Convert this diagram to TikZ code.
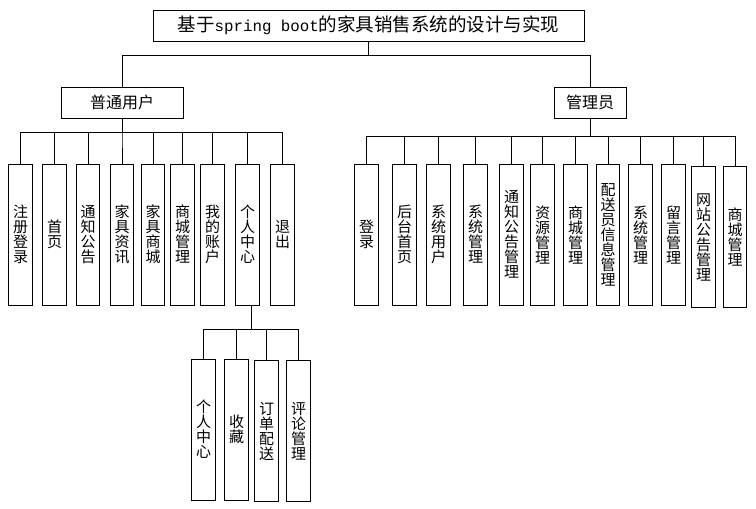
\documentclass[tikz,border=0pt]{standalone}
\usepackage{fontspec}
\newfontfamily\cjk{Noto Sans CJK SC}
\newfontfamily\latinmono{Liberation Mono}
\begin{document}
\begin{tikzpicture}[x=1pt,y=-1pt,line width=0.8pt,
  box/.style={draw,inner sep=0pt,minimum height=31pt,font=\cjk\fontsize{16}{16}\selectfont},
  leaf/.style={draw,inner sep=0pt,minimum width=23.5pt,minimum height=141pt,align=center,
    font=\cjk\fontsize{15}{15}\selectfont}]
  \useasboundingbox (0,0) rectangle (756,509);
  % 标题
  \node[box,minimum width=431pt,font=\cjk\fontsize{18.5}{18.5}\selectfont] (title) at (368.5,25.5)
    {基于{\latinmono\fontsize{15.8}{18}\selectfont spring boot}的家具销售系统的设计与实现};
  \node[box,minimum width=122pt] (user) at (122,102.5) {普通用户};
  \node[box,minimum width=72pt] (admin) at (590,102.5) {管理员};
  \draw (title.south) -- ++(0,14) -| (user.north);
  \draw (title.south) ++(0,14) -| (admin.north);
  % 普通用户
  \foreach \x/\t [count=\i] in {20.5/注\\册\\登\\录, 54.5/首\\页, 88/通\\知\\公\\告,
      122/家\\具\\资\\讯, 153/家\\具\\商\\城, 182.5/商\\城\\管\\理, 212.5/我\\的\\账\\户,
      247.5/个\\人\\中\\心, 282.5/退\\出}
    \node[leaf] (u\i) at (\x,234.5) {\t};
  \foreach \i in {1,...,9}
    \draw (user.south) -- ++(0,14) -| (u\i.north);
  % 管理员
  \foreach \x/\y/\t [count=\i] in {366.5/234.5/登\\录, 404.5/234.5/后\\台\\首\\页,
      438.5/234.5/系\\统\\用\\户, 475.5/234.5/系\\统\\管\\理, 511.5/234.5/通\\知\\公\\告\\管\\理,
      542.5/235/资\\源\\管\\理, 575.5/235/商\\城\\管\\理, 608/235/配\\送\\员\\信\\息\\管\\理,
      640.5/235/系\\统\\管\\理, 673.5/235/留\\言\\管\\理, 703.5/237/网\\站\\公\\告\\管\\理,
      735/237/商\\城\\管\\理}
    \node[leaf] (a\i) at (\x,\y) {\t};
  \foreach \i in {1,...,12}
    \draw (admin.south) -- ++(0,18) -| (a\i.north);
  % 个人中心
  \foreach \x/\y/\t [count=\i] in {203.5/429.5/个\\人\\中\\心, 236.5/429.5/收\\藏,
      266.5/431/订\\单\\配\\送, 298.5/431/评\\论\\管\\理}
    \node[leaf] (p\i) at (\x,\y) {\t};
  \foreach \i in {1,...,4}
    \draw ([xshift=3.5pt]u8.south) -- ++(0,24) -| (p\i.north);
\end{tikzpicture}
\end{document}
